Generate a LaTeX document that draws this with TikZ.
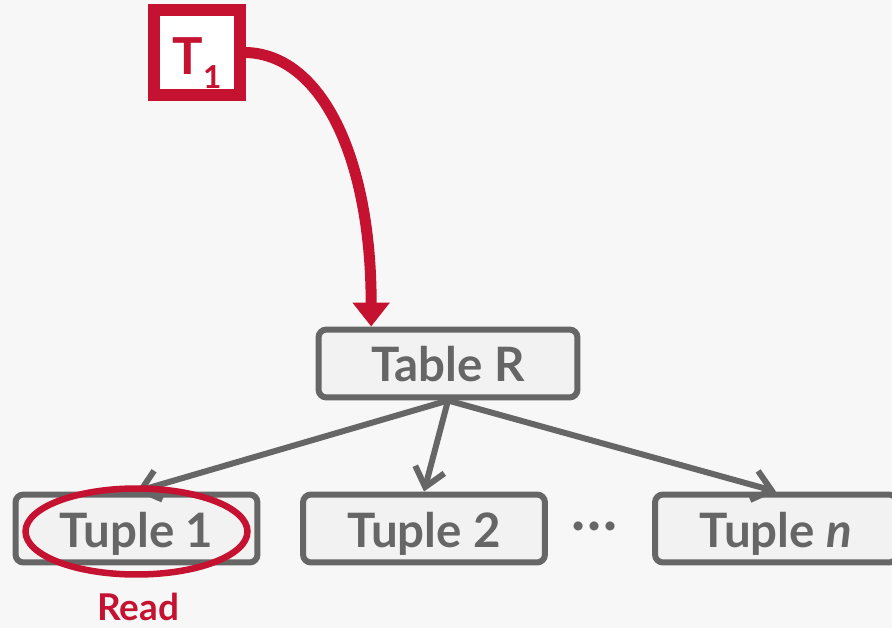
\documentclass[tikz,border=0pt]{standalone}
\usepackage{fontspec}
\setmainfont{Lato}
\usetikzlibrary{arrows.meta,calc,positioning}
\definecolor{cmured}{HTML}{C41230}
\definecolor{boxgray}{HTML}{666666}
\definecolor{boxfill}{HTML}{F2F2F2}
\definecolor{bggray}{HTML}{F7F7F7}
\tikzset{
  objbox/.style={draw=boxgray, fill=boxfill, line width=0.12cm, rounded corners=0.16cm,
    minimum width=4.84cm, minimum height=1.36cm, inner sep=0pt,
    text height=0.74cm, text depth=0cm,
    text=boxgray, font=\fontsize{27}{30}\selectfont\bfseries},
  ptr/.style={boxgray, line width=0.12cm, -{Straight Barb[length=0.36cm,width=0.6cm]}},
}
\begin{document}
\begin{tikzpicture}[x=0.02cm, y=-0.02cm]
    % background
    \fill[bggray] (0,0) rectangle (892,628);
    \useasboundingbox (0,0) rectangle (892,628);

    % table and tuples
    \node[objbox, minimum width=5.18cm] (table) at (448,363.5) {Table R};
    \node[objbox] (tup1) at (136.5,528.5) {Tuple 1};
    \node[objbox] (tup2) at (424,528.5) {Tuple 2};
    \node[text=boxgray, font=\fontsize{34}{36}\selectfont\bfseries] (dots) at (595,526) {\ldots};
    \node[objbox] (tupn) at (776,528.5) {Tuple \textit{n}};

    \draw[ptr] (table.south) -- (tup1.north);
    \draw[ptr] (table.south) -- (tup2.north);
    \draw[ptr] (table.south) -- (tupn.north);

    % transaction
    \node[draw=cmured, fill=white, line width=0.24cm, minimum size=1.72cm, inner sep=0pt,
          text height=0.9cm, text depth=0cm,
          text=cmured, font=\fontsize{29}{30}\selectfont\bfseries] (t1) at (197,52.5)
          {T\raisebox{-0.26em}{\fontsize{18}{20}\selectfont 1}};
    \coordinate (tip) at ($(table.north west)!0.21!(table.north east)$);
    \draw[cmured, line width=0.22cm, -{Triangle[length=0.48cm,width=0.72cm]}]
        (t1.east) .. controls +(75,2) and +(0,-170) .. (tip);

    % read lock
    \draw[cmured, line width=0.13cm] ($(tup1.center)+(0,3)$) ellipse [x radius=2.22cm, y radius=0.86cm];
    \node[text=cmured, font=\fontsize{21}{24}\selectfont\bfseries] (read) at (138,607) {Read};
\end{tikzpicture}
\end{document}
